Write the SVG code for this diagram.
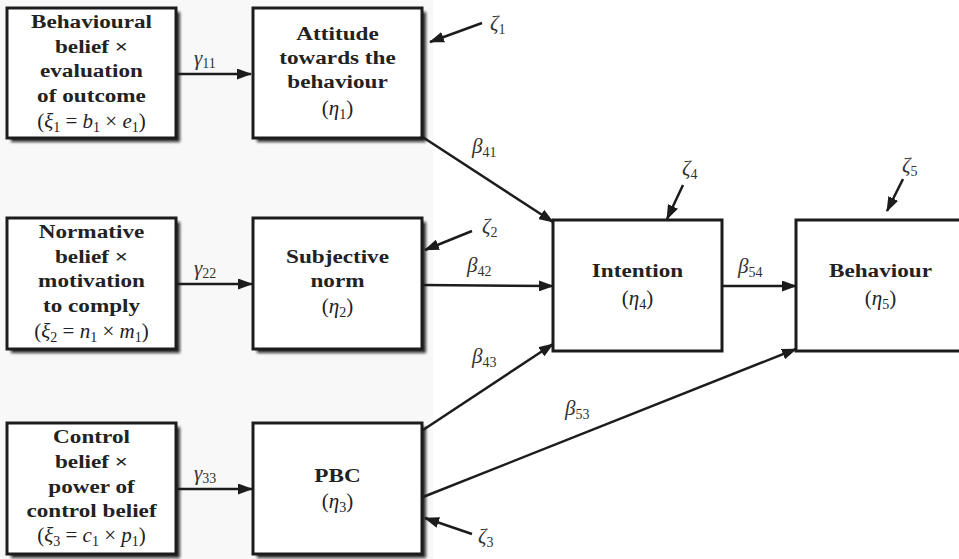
<svg xmlns="http://www.w3.org/2000/svg" width="959" height="559" viewBox="0 0 959 559">
<defs>
<style>
.box{fill:#fff;stroke:#1c1c1c;stroke-width:3}
.shadow{fill:#111;opacity:.85;filter:url(#blur)}
.t{font-family:"Liberation Serif","Times New Roman",serif;font-weight:bold;font-size:19px;fill:#222;text-anchor:middle}
.m{font-family:"Liberation Serif","Times New Roman",serif;font-size:21px;fill:#222;text-anchor:middle}
.lab{font-family:"Liberation Serif","Times New Roman",serif;font-size:21px;fill:#333}
.i{font-style:italic}
.s{font-size:14px;font-style:normal}
.c{fill:none;stroke:#1c1c1c;stroke-width:2.5;marker-end:url(#ah)}
</style>
<filter id="blur" x="-10%" y="-10%" width="120%" height="120%"><feGaussianBlur stdDeviation="1.6"/></filter>
<marker id="ah" viewBox="0 0 15 11" refX="14" refY="5.5" markerUnits="userSpaceOnUse" markerWidth="15" markerHeight="11" orient="auto"><path d="M0,0 L15,5.5 L0,11 z" fill="#1c1c1c"/></marker>
</defs>
<rect x="0" y="0" width="959" height="559" fill="#fff"/>
<rect x="0" y="0" width="433" height="559" fill="#f8f8f8"/>

<g id="xi1">
<rect class="shadow" x="11" y="12" width="169" height="130"/>
<rect class="box" x="7" y="8" width="169" height="130"/>
<g transform="translate(91.5 0) scale(1.22 1)">
<text class="t" x="0" y="28">Behavioural</text>
<text class="t" x="0" y="53">belief ×</text>
<text class="t" x="0" y="77">evaluation</text>
<text class="t" x="0" y="102">of outcome</text>
</g>
<text class="m" x="91.5" y="128">(<tspan class="i">ξ</tspan><tspan class="s" dy="4">1</tspan><tspan dy="-4"> = </tspan><tspan class="i">b</tspan><tspan class="s" dy="4">1</tspan><tspan dy="-4"> × </tspan><tspan class="i">e</tspan><tspan class="s" dy="4">1</tspan><tspan dy="-4">)</tspan></text>
</g>

<g id="eta1">
<rect class="shadow" x="257" y="12" width="169" height="130"/>
<rect class="box" x="253" y="8" width="169" height="130"/>
<g transform="translate(337.5 0) scale(1.22 1)">
<text class="t" x="0" y="40">Attitude</text>
<text class="t" x="0" y="64">towards the</text>
<text class="t" x="0" y="88">behaviour</text>
</g>
<text class="m" x="337.5" y="115">(<tspan class="i">η</tspan><tspan class="s" dy="4">1</tspan><tspan dy="-4">)</tspan></text>
</g>

<g id="xi2">
<rect class="shadow" x="11" y="222" width="169" height="131"/>
<rect class="box" x="7" y="218" width="169" height="131"/>
<g transform="translate(91.5 0) scale(1.22 1)">
<text class="t" x="0" y="238">Normative</text>
<text class="t" x="0" y="263">belief ×</text>
<text class="t" x="0" y="287">motivation</text>
<text class="t" x="0" y="312">to comply</text>
</g>
<text class="m" x="91.5" y="338">(<tspan class="i">ξ</tspan><tspan class="s" dy="4">2</tspan><tspan dy="-4"> = </tspan><tspan class="i">n</tspan><tspan class="s" dy="4">1</tspan><tspan dy="-4"> × </tspan><tspan class="i">m</tspan><tspan class="s" dy="4">1</tspan><tspan dy="-4">)</tspan></text>
</g>

<g id="eta2">
<rect class="shadow" x="257" y="222" width="169" height="131"/>
<rect class="box" x="253" y="218" width="169" height="131"/>
<g transform="translate(337.5 0) scale(1.22 1)">
<text class="t" x="0" y="263">Subjective</text>
<text class="t" x="0" y="287">norm</text>
</g>
<text class="m" x="337.5" y="313">(<tspan class="i">η</tspan><tspan class="s" dy="4">2</tspan><tspan dy="-4">)</tspan></text>
</g>

<g id="xi3">
<rect class="shadow" x="11" y="427" width="169" height="131"/>
<rect class="box" x="7" y="423" width="169" height="131"/>
<g transform="translate(91.5 0) scale(1.22 1)">
<text class="t" x="0" y="443">Control</text>
<text class="t" x="0" y="468">belief ×</text>
<text class="t" x="0" y="493">power of</text>
<text class="t" x="0" y="517">control belief</text>
</g>
<text class="m" x="91.5" y="542">(<tspan class="i">ξ</tspan><tspan class="s" dy="4">3</tspan><tspan dy="-4"> = </tspan><tspan class="i">c</tspan><tspan class="s" dy="4">1</tspan><tspan dy="-4"> × </tspan><tspan class="i">p</tspan><tspan class="s" dy="4">1</tspan><tspan dy="-4">)</tspan></text>
</g>

<g id="eta3">
<rect class="shadow" x="257" y="427" width="169" height="131"/>
<rect class="box" x="253" y="423" width="169" height="131"/>
<g transform="translate(337.5 0) scale(1.22 1)">
<text class="t" x="0" y="482">PBC</text>
</g>
<text class="m" x="337.5" y="508">(<tspan class="i">η</tspan><tspan class="s" dy="4">3</tspan><tspan dy="-4">)</tspan></text>
</g>

<g id="eta4">
<rect class="box" x="553" y="220" width="169" height="131"/>
<g transform="translate(637.5 0) scale(1.22 1)">
<text class="t" x="0" y="277">Intention</text>
</g>
<text class="m" x="637.5" y="305">(<tspan class="i">η</tspan><tspan class="s" dy="4">4</tspan><tspan dy="-4">)</tspan></text>
</g>

<g id="eta5">
<rect class="box" x="796" y="220" width="169" height="131"/>
<g transform="translate(880.5 0) scale(1.22 1)">
<text class="t" x="0" y="277">Behaviour</text>
</g>
<text class="m" x="880.5" y="305">(<tspan class="i">η</tspan><tspan class="s" dy="4">5</tspan><tspan dy="-4">)</tspan></text>
</g>

<g id="connectors">
<path class="c" d="M176,74 L251,74"/>
<path class="c" d="M176,284 L252,284"/>
<path class="c" d="M176,489 L252,489"/>
<path class="c" d="M482,23 L430,42"/>
<path class="c" d="M472,231 L425,250"/>
<path class="c" d="M472,534 L425,518"/>
<path class="c" d="M683,185 L667,219"/>
<path class="c" d="M903,179 L887,211"/>
<path class="c" d="M421,136 L553,222"/>
<path class="c" d="M423,285 L553,286"/>
<path class="c" d="M423,430 L553,344"/>
<path class="c" d="M423,497 L796,349"/>
<path class="c" d="M722,286 L796,286"/>
</g>

<g id="labels">
<text class="lab" x="194" y="65"><tspan class="i">γ</tspan><tspan class="s" dy="3">11</tspan></text>
<text class="lab" x="194" y="275"><tspan class="i">γ</tspan><tspan class="s" dy="3">22</tspan></text>
<text class="lab" x="194" y="480"><tspan class="i">γ</tspan><tspan class="s" dy="3">33</tspan></text>
<text class="lab" x="490" y="30"><tspan class="i">ζ</tspan><tspan class="s" dy="4">1</tspan></text>
<text class="lab" x="482" y="233"><tspan class="i">ζ</tspan><tspan class="s" dy="4">2</tspan></text>
<text class="lab" x="478" y="543"><tspan class="i">ζ</tspan><tspan class="s" dy="4">3</tspan></text>
<text class="lab" x="682" y="175"><tspan class="i">ζ</tspan><tspan class="s" dy="4">4</tspan></text>
<text class="lab" x="902" y="172"><tspan class="i">ζ</tspan><tspan class="s" dy="4">5</tspan></text>
<text class="lab" x="472" y="153"><tspan class="i">β</tspan><tspan class="s" dy="4">41</tspan></text>
<text class="lab" x="467" y="272"><tspan class="i">β</tspan><tspan class="s" dy="4">42</tspan></text>
<text class="lab" x="472" y="363"><tspan class="i">β</tspan><tspan class="s" dy="4">43</tspan></text>
<text class="lab" x="565" y="415"><tspan class="i">β</tspan><tspan class="s" dy="4">53</tspan></text>
<text class="lab" x="738" y="273"><tspan class="i">β</tspan><tspan class="s" dy="4">54</tspan></text>
</g>
</svg>
